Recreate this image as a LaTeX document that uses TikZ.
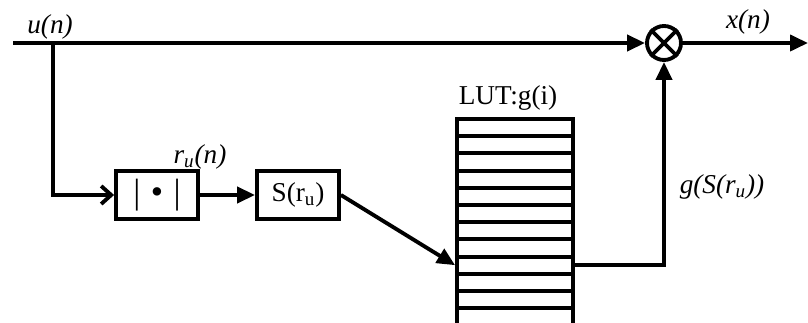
\documentclass[tikz,border=0pt]{standalone}
\usepackage{fontspec}
\setmainfont{Liberation Serif}
\usetikzlibrary{arrows.meta}

\tikzset{
  blk/.style={draw, line width=2.2pt, rectangle, minimum width=1.64cm, minimum height=0.96cm, inner sep=0pt},
  lutcell/.style={draw, line width=2.2pt, rectangle, minimum width=2.32cm, minimum height=0.344cm, inner sep=0pt},
  wire/.style={draw, line width=2.2pt},
  arr/.style={wire, -{Triangle[length=0.36cm, width=0.32cm]}},
  openarr/.style={wire, -{Straight Barb[length=0.2cm, width=0.36cm, line width=2.2pt]}},
  lbl/.style={font=\fontsize{15.5}{18}\selectfont}
}

\begin{document}
\begin{tikzpicture}[x=0.02cm, y=-0.02cm]
\useasboundingbox (0,0) rectangle (808,323);

\coordinate (in) at (13,43);
\coordinate (split) at (53,43);
\coordinate (out) at (808,43);

\node[draw, circle, line width=2.2pt, minimum size=0.68cm, inner sep=0pt] (mul) at (664,43) {};
\path[draw, line width=2.2pt] (mul.north west) -- (mul.south east);
\path[draw, line width=2.2pt] (mul.north east) -- (mul.south west);

\node[blk, font=\fontsize{20}{22}\selectfont] (abs) at (157,195) {|\hspace{6pt}•\hspace{6pt}|};
\node[blk, lbl] (sq) at (298,195) {S(r\textsubscript{u})};

% lookup table
\foreach \i in {1,...,12}
  \node[lutcell] (lut\i) at (515, {127.6+17.2*(\i-1)}) {};

\node[lbl] at (50,27) {\textit{u(n)}};
\node[lbl] at (748,22) {\textit{x(n)}};
\node[lbl] at (200,157) {\textit{r\textsubscript{u}(n)}};
\node[lbl] at (722,187) {\textit{g(S(r\textsubscript{u}))}};
\node[lbl] at (508,98) {LUT:g(i)};

\path[arr] (in) -- (mul.west);
\path[arr] (mul.east) -- (out);
\path[openarr] (split) |- (abs.west);
\path[arr] (abs.east) -- (sq.west);
\path[arr] (sq.east) -- (lut9.west);
\path[arr] (lut9.east) -| (mul.south);
\end{tikzpicture}
\end{document}
